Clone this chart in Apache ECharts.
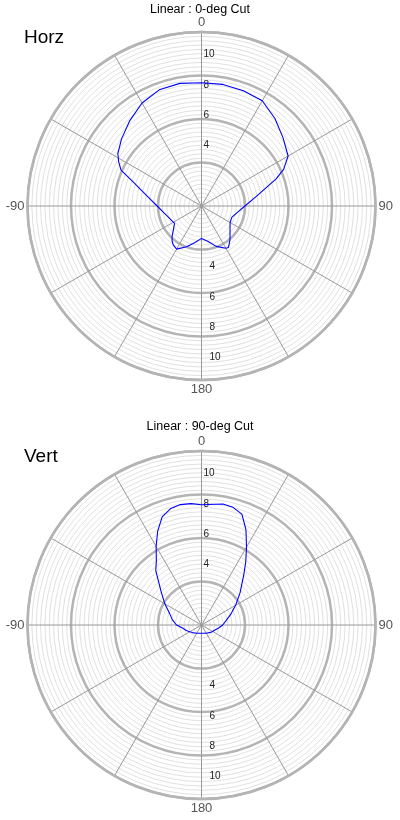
<!DOCTYPE html>
<html>
<head>
<meta charset="utf-8">
<script src="https://cdn.jsdelivr.net/npm/echarts@6/dist/echarts.min.js"></script>
<style>
html,body{margin:0;padding:0;background:#fff;}
#chart{width:400px;height:820px;}
</style>
</head>
<body>
<div id="chart"></div>
<script>
// ---- data ----
var chartTitles = ['Linear : 0-deg Cut', 'Linear : 90-deg Cut'];
var chartNames = ['Horz', 'Vert'];
var radialTickLabels = [4, 6, 8, 10];
var angleTickLabels = {0: '0', 90: '90', 180: '180', 270: '-90'};

var horzAngles = [0,10,20,30,40,50,60,66,70,80,90,100,110,113,120,130,140,147,150,160,170,180,190,200,210,216,220,224,230,237,240,250,260,270,280,290,294,298,302,310,320,330,340,350,360];
var horzValues = [8.15,8.16,8.10,8.03,7.55,7.03,6.61,5.94,5.25,3.68,2.87,2.41,2.14,2.08,2.18,2.46,2.93,3.27,3.22,2.84,2.37,2.14,2.45,2.86,3.29,3.18,3.02,2.80,2.42,2.12,2.14,2.28,2.53,2.93,3.61,4.90,5.82,6.20,6.52,6.90,7.37,7.86,8.17,8.23,8.15];

var vertAngles = [0,10,15,20,25,30,35,40,50,60,70,80,90,100,110,120,130,150,180,210,230,240,250,260,270,280,290,300,305,310,315,320,325,330,335,340,345,350,355,360];
var vertValues = [7.95,8.12,8.05,7.80,6.95,5.95,5.10,4.35,3.33,2.60,2.05,1.65,1.40,1.15,0.95,0.85,0.76,0.63,0.55,0.63,0.78,0.90,1.07,1.25,1.65,1.95,2.25,2.80,3.10,3.50,4.00,4.70,5.20,6.00,6.85,7.60,7.95,8.08,8.05,7.95];

var allAngles = [horzAngles, vertAngles];
var allValues = [horzValues, vertValues];

// ---- layout ----
var centersY = [206, 625];
var titleTops = [3, 420];
var nameTops = [28, 447];
var cx = 201.5, R = 174, RMAX = 11.5;

var chart = echarts.init(document.getElementById('chart'), null, {renderer: 'canvas'});
var polar = [], angleAxis = [], radiusAxis = [], series = [], title = [];
var FONT = 'Liberation Sans, Arial, sans-serif';
function radialFmt(v) { return radialTickLabels.indexOf(v) >= 0 ? String(v) : ''; }

for (var i = 0; i < 2; i++) {
  var cy = centersY[i];
  var b = polar.length;
  // grid polar (circles)
  polar.push({center: [cx, cy], radius: R});
  angleAxis.push({polarIndex: b, type: 'value', min: 0, max: 360, startAngle: 90, show: false});
  radiusAxis.push({polarIndex: b, type: 'value', min: 0, max: 4, interval: 1, z: 1,
    axisLine: {show: false}, axisTick: {show: false}, axisLabel: {show: false},
    splitLine: {show: true, lineStyle: {color: '#b4b4b4', width: 2.5}},
    minorTick: {show: false, splitNumber: 10},
    minorSplitLine: {show: true, lineStyle: {color: '#e0e0e0', width: 1}}
  });
  // data polar (spokes, angle labels, up labels)
  polar.push({center: [cx, cy], radius: R});
  angleAxis.push({polarIndex: b + 1, type: 'value', min: 0, max: 360, interval: 30, startAngle: 90, clockwise: true, z: 2,
    axisLine: {show: true, lineStyle: {color: '#b4b4b4', width: 2.5}},
    axisTick: {show: false},
    axisLabel: {show: true, margin: 3, color: '#555', fontSize: 13, fontFamily: FONT,
      formatter: function (v) { return angleTickLabels.hasOwnProperty(v) ? angleTickLabels[v] : ''; }},
    splitLine: {show: true, lineStyle: {color: '#999', width: 1}}
  });
  radiusAxis.push({polarIndex: b + 1, type: 'value', min: 0, max: RMAX, interval: 2, z: 3,
    axisLine: {show: false}, axisTick: {show: false}, splitLine: {show: false},
    axisLabel: {show: true, color: '#222', fontSize: 10, fontFamily: FONT, showMaxLabel: false,
      align: 'left', margin: -2, formatter: radialFmt}
  });
  // down labels polar
  polar.push({center: [cx, cy], radius: R});
  angleAxis.push({polarIndex: b + 2, type: 'value', min: 0, max: 360, startAngle: 270, show: false});
  radiusAxis.push({polarIndex: b + 2, type: 'value', min: 0, max: RMAX, interval: 2, z: 3,
    axisLine: {show: false}, axisTick: {show: false}, splitLine: {show: false},
    axisLabel: {show: true, color: '#222', fontSize: 10, fontFamily: FONT, showMaxLabel: false,
      formatter: radialFmt}
  });

  var d = [];
  for (var k = 0; k < allAngles[i].length; k++) d.push([allValues[i][k], allAngles[i][k]]);
  series.push({type: 'line', coordinateSystem: 'polar', polarIndex: b + 1, data: d,
    showSymbol: false, symbol: 'none', z: 5, silent: true, animation: false,
    lineStyle: {color: '#0000ff', width: 1.1}});

  title.push({text: chartTitles[i], left: 'center', top: titleTops[i], padding: 0,
    textStyle: {fontSize: 12.5, fontWeight: 'normal', color: '#000', fontFamily: FONT}});
  title.push({text: chartNames[i], left: 24, top: nameTops[i], padding: 0,
    textStyle: {fontSize: 19, fontWeight: 'normal', color: '#000', fontFamily: FONT}});
}

chart.setOption({
  animation: false,
  title: title,
  polar: polar,
  angleAxis: angleAxis,
  radiusAxis: radiusAxis,
  series: series
});
</script>
</body>
</html>
